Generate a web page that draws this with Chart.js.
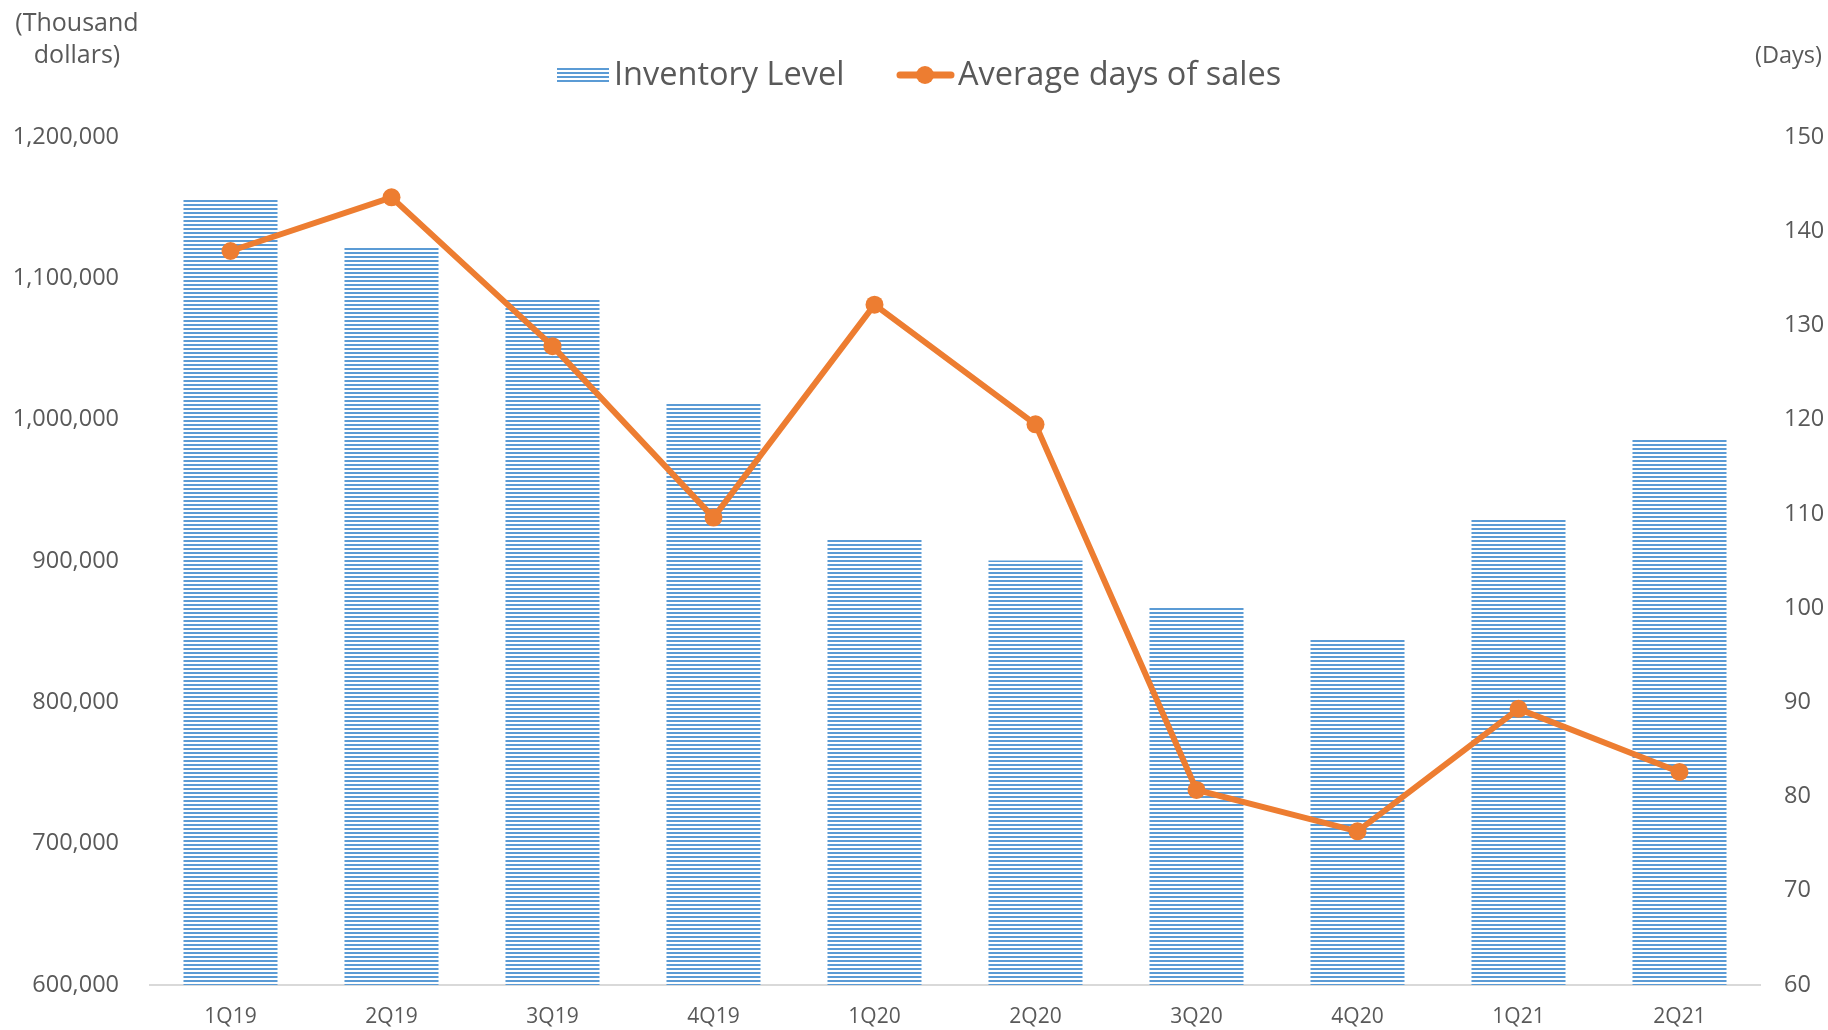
<!DOCTYPE html>
<html lang="en">
  <head>
    <meta charset="UTF-8" />
    <title>Inventory Level</title>
    <script src="https://cdn.jsdelivr.net/npm/chart.js"></script>
    <style>
      html, body { margin: 0; padding: 0; background: #fff; }
      .wrap { width: 1828px; height: 1030px; }
    </style>
  </head>
  <body>
    <div class="wrap"><canvas id="invChart" width="1828" height="1030"></canvas></div>

    <script>
      // Data
      const quarters = ["1Q19", "2Q19", "3Q19", "4Q19", "1Q20", "2Q20", "3Q20", "4Q20", "1Q21", "2Q21"];
      const inventoryLevel = [1155600, 1121800, 1084800, 1011500, 916000, 900400, 867500, 845300, 929200, 986000];
      const avgDaysOfSales = [137.9, 143.6, 127.8, 109.6, 132.2, 119.5, 80.7, 76.3, 89.3, 82.6];
      const seriesNames = ["Inventory Level", "Average days of sales"];
      const axisTitles = { left: ["(Thousand", "dollars)"], right: "(Days)" };

      const FONT = "'Open Sans', 'Noto Sans', sans-serif";
      const TEXT = "#595959";
      const BLUE = "#5b9bd5";
      const ORANGE = "#ed7d31";

      // horizontal line hatch for the bars
      function makeHatch() {
        const c = document.createElement("canvas");
        c.width = 4;
        c.height = 4;
        const g = c.getContext("2d");
        g.fillStyle = "#ffffff";
        g.fillRect(0, 0, 4, 4);
        g.fillStyle = BLUE;
        g.fillRect(0, 0, 4, 2);
        return g.createPattern(c, "repeat");
      }
      const hatch = makeHatch();

      // legend + axis titles drawn on top
      const extras = {
        id: "extras",
        afterDraw(chart) {
          const ctx = chart.ctx;
          ctx.save();
          ctx.fillStyle = TEXT;

          // axis titles
          ctx.font = "25px " + FONT;
          ctx.textAlign = "center";
          ctx.textBaseline = "alphabetic";
          ctx.fillText(axisTitles.left[0], 77, 31);
          ctx.fillText(axisTitles.left[1], 77, 63);
          ctx.font = "23.5px " + FONT;
          ctx.textAlign = "right";
          ctx.fillText(axisTitles.right, 1822, 63);

          // legend
          ctx.fillStyle = hatch;
          ctx.fillRect(557, 66, 52, 18);
          ctx.fillStyle = TEXT;
          ctx.font = "32.5px " + FONT;
          ctx.textAlign = "left";
          ctx.fillText(seriesNames[0], 614, 85);

          ctx.strokeStyle = ORANGE;
          ctx.lineWidth = 7;
          ctx.lineCap = "round";
          ctx.beginPath();
          ctx.moveTo(900, 75);
          ctx.lineTo(951, 75);
          ctx.stroke();
          ctx.fillStyle = ORANGE;
          ctx.beginPath();
          ctx.arc(925, 75, 9, 0, Math.PI * 2);
          ctx.fill();
          ctx.fillStyle = TEXT;
          ctx.fillText(seriesNames[1], 958, 85);
          ctx.restore();
        },
      };

      new Chart(document.getElementById("invChart"), {
        data: {
          labels: quarters,
          datasets: [
            {
              type: "line",
              label: seriesNames[1],
              data: avgDaysOfSales,
              yAxisID: "y1",
              order: 1,
              borderColor: ORANGE,
              borderWidth: 6,
              pointRadius: 9,
              pointBackgroundColor: ORANGE,
              pointBorderWidth: 0,
              tension: 0,
            },
            {
              type: "bar",
              label: seriesNames[0],
              data: inventoryLevel,
              yAxisID: "y",
              order: 2,
              backgroundColor: hatch,
              borderWidth: 0,
              categoryPercentage: 1,
              barPercentage: 0.584,
            },
          ],
        },
        options: {
          responsive: false,
          devicePixelRatio: 1,
          animation: false,
          layout: { padding: { top: 137, bottom: 0, left: 0, right: 0 } },
          plugins: {
            legend: { display: false },
            tooltip: { enabled: false },
          },
          scales: {
            x: {
              grid: { display: false, drawTicks: false },
              border: { display: true, color: "#d9d9d9", width: 2 },
              ticks: { color: TEXT, font: { size: 21, family: FONT }, padding: 20 },
              afterFit(s) { s.height = 45; },
            },
            y: {
              position: "left",
              min: 600000,
              max: 1200000,
              grid: { display: false, drawTicks: false },
              border: { display: false },
              ticks: {
                stepSize: 100000,
                color: TEXT,
                padding: 31,
                font: { size: 23.5, family: FONT },
                callback: (v) => v.toLocaleString("en-US"),
              },
              afterFit(s) { s.width = 150; },
            },
            y1: {
              position: "right",
              min: 60,
              max: 150,
              grid: { display: false, drawTicks: false },
              border: { display: false },
              ticks: {
                stepSize: 10,
                color: TEXT,
                padding: 24,
                font: { size: 23.5, family: FONT },
              },
              afterFit(s) { s.width = 68; },
            },
          },
        },
        plugins: [extras],
      });
    </script>
  </body>
</html>
